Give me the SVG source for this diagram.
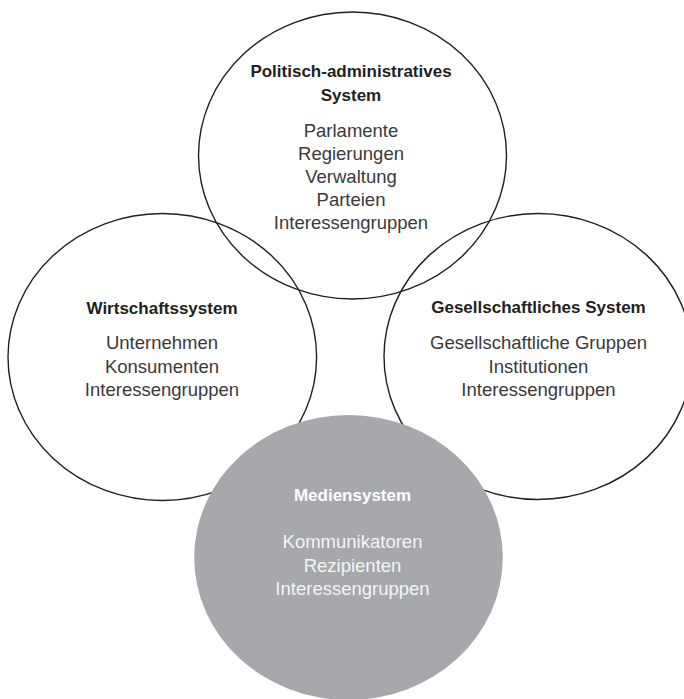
<svg xmlns="http://www.w3.org/2000/svg" width="684" height="699" viewBox="0 0 684 699">
<style>
.ring{fill:none;stroke:#231f20;stroke-width:1.4}
.gray{fill:#a7a8ab;stroke:none}
text{font-family:"Liberation Sans",Arial,sans-serif;text-anchor:middle}
.t{font-size:17px;font-weight:bold;fill:#231f20}
.b{font-size:18.5px;fill:#3a3a3a}
.tw{font-size:17px;font-weight:bold;fill:#ffffff}
.bw{font-size:18.5px;fill:#f4f4f4}
</style>
<rect width="684" height="699" fill="#ffffff"/>
<g id="connectors"></g>
<g id="politik">
<ellipse class="ring" cx="352.5" cy="155.5" rx="154" ry="143.5"/>
<text class="t" x="351" y="77">Politisch-administratives</text>
<text class="t" x="351" y="100.5">System</text>
<text class="b" x="351" y="137.3">Parlamente</text>
<text class="b" x="351" y="160.3">Regierungen</text>
<text class="b" x="351" y="183.3">Verwaltung</text>
<text class="b" x="351" y="206.3">Parteien</text>
<text class="b" x="351" y="229.3">Interessengruppen</text>
</g>
<g id="wirtschaft">
<ellipse class="ring" cx="162.3" cy="357" rx="154.3" ry="143.5"/>
<text class="t" x="162" y="314">Wirtschaftssystem</text>
<text class="b" x="162" y="349.3">Unternehmen</text>
<text class="b" x="162" y="372.6">Konsumenten</text>
<text class="b" x="162" y="395.9">Interessengruppen</text>
</g>
<g id="gesellschaft">
<ellipse class="ring" cx="538" cy="356.5" rx="154" ry="143"/>
<text class="t" x="538.5" y="313.3">Gesellschaftliches System</text>
<text class="b" x="538.5" y="349.3">Gesellschaftliche Gruppen</text>
<text class="b" x="538.5" y="372.6">Institutionen</text>
<text class="b" x="538.5" y="395.9">Interessengruppen</text>
</g>
<g id="medien">
<ellipse class="gray" cx="348.5" cy="557.5" rx="154.3" ry="142.5"/>
<text class="tw" x="352.5" y="500.7">Mediensystem</text>
<text class="bw" x="352.5" y="548.3">Kommunikatoren</text>
<text class="bw" x="352.5" y="571.6">Rezipienten</text>
<text class="bw" x="352.5" y="594.9">Interessengruppen</text>
</g>
</svg>
